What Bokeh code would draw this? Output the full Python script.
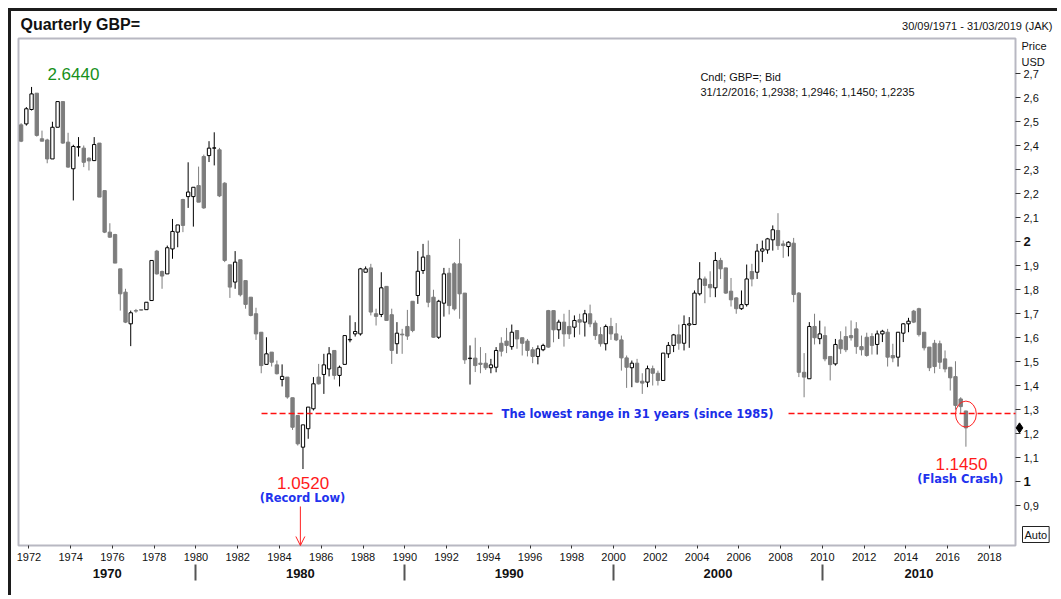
import pandas as pd
from bokeh.plotting import figure
from bokeh.models import (ColumnDataSource, Range1d, LinearAxis, FixedTicker, Label,
                          Arrow, OpenHead, CustomJSTickFormatter)
from bokeh.embed import file_html
from bokeh.resources import INLINE

# ---------------- data (quarterly GBP/USD candles, 1971Q3 .. 2016Q4) ----------------
first_quarter = "1971Q3"
last_quarter = "2016Q4"

opens = [2.486, 2.490, 2.550, 2.618, 2.428, 2.423, 2.344, 2.476, 2.583, 2.414,
         2.303, 2.393, 2.389, 2.347, 2.337, 2.410, 2.212, 2.039, 2.029, 1.886,
         1.789, 1.657, 1.712, 1.716, 1.716, 1.754, 1.960, 1.875, 1.865, 1.969,
         2.039, 2.175, 2.187, 2.187, 2.233, 2.354, 2.358, 2.389, 2.382, 2.243,
         1.903, 1.831, 1.924, 1.837, 1.768, 1.699, 1.622, 1.488, 1.539, 1.486,
         1.425, 1.435, 1.349, 1.275, 1.143, 1.220, 1.303, 1.435, 1.446, 1.469,
         1.546, 1.442, 1.488, 1.590, 1.615, 1.615, 1.872, 1.890, 1.699, 1.696,
         1.813, 1.695, 1.574, 1.614, 1.646, 1.751, 1.775, 1.879, 1.942, 1.768,
         1.601, 1.743, 1.868, 1.907, 1.907, 1.785, 1.512, 1.514, 1.493, 1.493,
         1.474, 1.476, 1.576, 1.585, 1.562, 1.629, 1.599, 1.585, 1.549, 1.521,
         1.549, 1.712, 1.712, 1.632, 1.664, 1.646, 1.643, 1.674, 1.664, 1.699,
         1.660, 1.612, 1.574, 1.646, 1.615, 1.590, 1.515, 1.474, 1.493, 1.418,
         1.414, 1.470, 1.451, 1.421, 1.532, 1.567, 1.611, 1.576, 1.652, 1.654,
         1.782, 1.844, 1.821, 1.807, 1.921, 1.890, 1.793, 1.765, 1.720, 1.737,
         1.875, 1.872, 1.960, 1.965, 2.007, 2.046, 1.990, 1.979, 1.993, 1.785,
         1.455, 1.428, 1.646, 1.595, 1.608, 1.521, 1.490, 1.590, 1.604, 1.608,
         1.636, 1.562, 1.601, 1.604, 1.571, 1.615, 1.622, 1.525, 1.518, 1.618,
         1.657, 1.710, 1.720, 1.622, 1.560, 1.576, 1.574, 1.511, 1.476, 1.437,
         1.344, 1.2938]
highs = [2.493, 2.560, 2.644, 2.618, 2.462, 2.428, 2.499, 2.583, 2.583, 2.453,
         2.403, 2.435, 2.400, 2.351, 2.435, 2.410, 2.212, 2.076, 2.032, 1.886,
         1.803, 1.712, 1.719, 1.717, 1.747, 1.921, 1.965, 1.879, 1.983, 2.094,
         2.069, 2.178, 2.330, 2.226, 2.312, 2.362, 2.418, 2.455, 2.390, 2.247,
         1.903, 1.960, 1.924, 1.837, 1.768, 1.724, 1.622, 1.601, 1.539, 1.504,
         1.488, 1.435, 1.349, 1.275, 1.236, 1.310, 1.435, 1.490, 1.532, 1.560,
         1.546, 1.483, 1.608, 1.692, 1.664, 1.890, 1.896, 1.907, 1.720, 1.872,
         1.813, 1.720, 1.664, 1.636, 1.715, 1.751, 1.960, 1.990, 2.004, 1.799,
         1.757, 1.890, 1.890, 1.914, 2.011, 1.785, 1.567, 1.599, 1.560, 1.535,
         1.511, 1.560, 1.601, 1.640, 1.654, 1.629, 1.599, 1.594, 1.560, 1.567,
         1.574, 1.715, 1.712, 1.674, 1.699, 1.715, 1.692, 1.699, 1.715, 1.737,
         1.671, 1.643, 1.654, 1.682, 1.660, 1.608, 1.525, 1.504, 1.511, 1.451,
         1.483, 1.483, 1.462, 1.535, 1.581, 1.615, 1.654, 1.692, 1.685, 1.796,
         1.914, 1.854, 1.876, 1.956, 1.932, 1.890, 1.848, 1.768, 1.796, 1.904,
         1.907, 1.990, 2.004, 2.015, 2.067, 2.118, 2.004, 2.001, 2.015, 1.789,
         1.535, 1.664, 1.699, 1.670, 1.646, 1.521, 1.594, 1.626, 1.646, 1.671,
         1.664, 1.608, 1.620, 1.618, 1.629, 1.632, 1.636, 1.574, 1.622, 1.660,
         1.682, 1.715, 1.724, 1.622, 1.560, 1.590, 1.587, 1.546, 1.476, 1.501,
         1.351, 1.2946]
lows = [2.414, 2.483, 2.546, 2.437, 2.418, 2.326, 2.344, 2.476, 2.407, 2.307,
        2.171, 2.354, 2.310, 2.296, 2.337, 2.185, 2.035, 2.015, 1.910, 1.712,
        1.660, 1.564, 1.703, 1.712, 1.716, 1.754, 1.862, 1.803, 1.865, 1.928,
        1.976, 2.039, 2.140, 2.062, 2.164, 2.136, 2.331, 2.317, 2.185, 1.914,
        1.765, 1.803, 1.771, 1.720, 1.688, 1.590, 1.451, 1.488, 1.479, 1.446,
        1.396, 1.345, 1.215, 1.150, 1.052, 1.178, 1.296, 1.404, 1.365, 1.438,
        1.425, 1.396, 1.488, 1.580, 1.604, 1.608, 1.872, 1.692, 1.650, 1.685,
        1.671, 1.490, 1.532, 1.532, 1.590, 1.622, 1.740, 1.865, 1.726, 1.599,
        1.594, 1.687, 1.696, 1.712, 1.678, 1.490, 1.404, 1.456, 1.451, 1.465,
        1.451, 1.455, 1.521, 1.535, 1.549, 1.553, 1.525, 1.521, 1.493, 1.488,
        1.543, 1.557, 1.580, 1.594, 1.562, 1.594, 1.601, 1.612, 1.604, 1.643,
        1.590, 1.562, 1.546, 1.590, 1.585, 1.462, 1.390, 1.393, 1.410, 1.365,
        1.393, 1.400, 1.400, 1.421, 1.515, 1.539, 1.549, 1.546, 1.557, 1.654,
        1.775, 1.743, 1.768, 1.768, 1.844, 1.782, 1.729, 1.699, 1.715, 1.729,
        1.813, 1.844, 1.914, 1.949, 1.962, 1.965, 1.932, 1.938, 1.747, 1.435,
        1.351, 1.428, 1.571, 1.572, 1.501, 1.421, 1.483, 1.532, 1.539, 1.587,
        1.532, 1.525, 1.520, 1.529, 1.529, 1.581, 1.479, 1.497, 1.479, 1.581,
        1.622, 1.660, 1.604, 1.546, 1.460, 1.451, 1.469, 1.455, 1.379, 1.299,
        1.282, 1.1450]
closes = [2.418, 2.553, 2.615, 2.442, 2.418, 2.344, 2.476, 2.583, 2.410, 2.310,
          2.396, 2.395, 2.330, 2.336, 2.404, 2.185, 2.039, 2.018, 1.910, 1.782,
          1.664, 1.703, 1.710, 1.714, 1.747, 1.921, 1.865, 1.856, 1.974, 2.042,
          2.069, 2.067, 2.206, 2.226, 2.164, 2.140, 2.389, 2.390, 2.190, 1.921,
          1.810, 1.914, 1.778, 1.738, 1.692, 1.615, 1.483, 1.532, 1.497, 1.449,
          1.438, 1.352, 1.226, 1.157, 1.236, 1.310, 1.407, 1.407, 1.486, 1.532,
          1.442, 1.476, 1.608, 1.592, 1.625, 1.886, 1.886, 1.706, 1.688, 1.807,
          1.671, 1.546, 1.618, 1.611, 1.606, 1.629, 1.876, 1.935, 1.747, 1.601,
          1.751, 1.865, 1.733, 1.719, 1.782, 1.507, 1.514, 1.483, 1.488, 1.474,
          1.486, 1.546, 1.543, 1.567, 1.622, 1.594, 1.576, 1.546, 1.521, 1.553,
          1.567, 1.560, 1.632, 1.664, 1.615, 1.615, 1.671, 1.664, 1.699, 1.657,
          1.608, 1.574, 1.646, 1.615, 1.590, 1.515, 1.476, 1.493, 1.414, 1.410,
          1.470, 1.451, 1.421, 1.535, 1.567, 1.611, 1.576, 1.654, 1.657, 1.785,
          1.844, 1.817, 1.807, 1.921, 1.886, 1.785, 1.757, 1.720, 1.737, 1.844,
          1.844, 1.960, 1.969, 2.011, 2.049, 1.983, 1.983, 1.997, 1.779, 1.455,
          1.435, 1.646, 1.599, 1.615, 1.511, 1.487, 1.571, 1.553, 1.549, 1.599,
          1.562, 1.549, 1.525, 1.567, 1.615, 1.626, 1.518, 1.515, 1.622, 1.657,
          1.668, 1.664, 1.612, 1.557, 1.474, 1.479, 1.497, 1.469, 1.432, 1.317,
          1.312, 1.2235]

year_ticks = list(range(1972, 2019, 2))
decade_label_pos = [1975.75, 1985.0, 1995.0, 2005.0, 2014.625]
decade_bounds = [1980, 1990, 2000, 2010]
price_ticks = [round(0.9 + 0.1 * i, 1) for i in range(19)]

low_range_level = 1.283
peak_text = "2.6440"
low_text = "1.0520"
crash_text = "1.1450"

# ---------------- derived ----------------
quarters = pd.period_range(first_quarter, last_quarter, freq="Q")
xs = [q.year + (q.quarter - 1) * 0.25 + 0.125 for q in quarters]


def split(cond):
    d = dict(x=[], top=[], bottom=[], high=[], low=[])
    for x, o, h, l, c in zip(xs, opens, highs, lows, closes):
        if cond(o, c):
            d["x"].append(x)
            d["top"].append(max(o, c))
            d["bottom"].append(min(o, c))
            d["high"].append(h)
            d["low"].append(l)
    return ColumnDataSource(d)


up_src = split(lambda o, c: c >= o)
dn_src = split(lambda o, c: c < o)

# plot-area extent (data) and pixel scale
X0, X1 = 1971.5, 2019.25
Y0, Y1 = 0.7333, 2.8458
PPX = 997 / (X1 - X0)      # px per year
PPY = 240.0                # px per price unit

W, H = 1049, 587
# the frame covers the whole canvas; axes are pinned with fixed_location
xr = Range1d(X0 - 7 / PPX, X1 + 45 / PPX)
yr = Range1d(2 - 357 / PPY, 2 + 230 / PPY)


def dx(px):  # horizontal pixel offset from plot-area right edge -> data
    return X1 + px / PPX


FONT = "Liberation Sans"
BLUE_FONT = "DejaVu Sans"

p = figure(width=W, height=H, x_range=xr, y_range=yr,
           output_backend="svg", toolbar_location=None,
           x_axis_location="below", y_axis_location="right",
           min_border=0, min_border_left=0, min_border_right=0,
           min_border_top=0, min_border_bottom=0,
           background_fill_color="white", border_fill_color="white",
           styles={"margin-left": "8px", "margin-top": "8px",
                   "border-top": "3px solid #1c1c1c", "border-left": "3px solid #1c1c1c"})
p.xgrid.visible = False
p.ygrid.visible = False
p.outline_line_color = None

GRAY = "#7d7d7d"
BORDER = "#b8b8c2"

# plot-area border
p.quad(left=[X0], right=[X1], bottom=[Y0], top=[Y1], fill_color=None,
       line_color=BORDER, line_width=2)

# wicks
p.segment(x0="x", x1="x", y0="low", y1="high", source=dn_src, line_color=GRAY, line_width=1)
p.segment(x0="x", x1="x", y0="low", y1="high", source=up_src, line_color="black", line_width=1)
# bodies
p.vbar(x="x", width=0.16, top="top", bottom="bottom", source=dn_src,
       fill_color=GRAY, line_color=GRAY, line_width=1)
p.vbar(x="x", width=0.16, top="top", bottom="bottom", source=up_src,
       fill_color="white", line_color="black", line_width=1)

# ---- axes ----
xa = p.xaxis[0]
xa.fixed_location = Y0
xa.ticker = FixedTicker(ticks=year_ticks)
xa.major_label_text_font = FONT
xa.major_label_text_font_size = "11px"
xa.major_label_text_color = "#111111"
xa.major_tick_in = 0
xa.major_tick_out = 3
xa.minor_tick_line_color = None
xa.major_tick_line_color = "#333333"
xa.axis_line_color = None
xa.major_label_standoff = 4

dec = LinearAxis(ticker=FixedTicker(ticks=decade_label_pos, minor_ticks=decade_bounds),
                 formatter=CustomJSTickFormatter(code="return String(Math.floor(tick/10)*10);"),
                 fixed_location=Y0 - 19 / PPY,
                 major_tick_line_color=None, major_tick_in=0, major_tick_out=0,
                 minor_tick_in=0, minor_tick_out=16, minor_tick_line_color="#555555",
                 minor_tick_line_width=2, axis_line_color=None,
                 major_label_text_font=FONT, major_label_text_font_size="13px",
                 major_label_text_font_style="bold", major_label_standoff=-12,
                 major_label_text_color="#111111")
p.add_layout(dec, "below")

ya = p.yaxis[0]
ya.fixed_location = X1
ya.ticker = FixedTicker(ticks=price_ticks)
ya.formatter = CustomJSTickFormatter(code="""
if (Math.abs(tick - Math.round(tick)) < 1e-6) { return ""; }
return tick.toFixed(1).replace('.', ',');
""")
ya.major_label_text_font = FONT
ya.major_label_text_font_size = "11px"
ya.major_label_text_color = "#111111"
ya.major_tick_in = 0
ya.major_tick_out = 5
ya.major_tick_line_color = "#333333"
ya.minor_tick_line_color = None
ya.axis_line_color = None
ya.major_label_standoff = 3

for v in (1, 2):
    p.add_layout(Label(x=dx(8), y=v, text=str(v), text_font=FONT, text_font_size="13px",
                       text_font_style="bold", text_baseline="middle", text_align="left",
                       text_color="#111111"))
p.add_layout(Label(x=dx(6), y=2 + (241 - 45) / PPY, text="Price", text_font=FONT,
                   text_font_size="11px", text_baseline="middle", text_color="#111111"))
p.add_layout(Label(x=dx(6), y=2 + (241 - 61) / PPY, text="USD", text_font=FONT,
                   text_font_size="11px", text_baseline="middle", text_color="#111111"))
p.scatter(x=[dx(4)], y=[closes[-1]], marker="diamond", size=10, color="black")
p.add_layout(Label(x=dx(7), y=Y0 + 3 / PPY, text="Auto", text_font=FONT,
                   text_font_size="11px", text_baseline="bottom", text_align="left",
                   text_color="#111111", border_line_color="#222222", border_line_width=1,
                   background_fill_color="white", padding=2))

# ---- titles ----
p.add_layout(Label(x=X0 + 2 / PPX, y=2 + (241 - 24) / PPY, text="Quarterly GBP=", text_font=FONT,
                   text_font_size="16px", text_font_style="bold", text_baseline="middle",
                   text_color="#111111"))
p.add_layout(Label(x=dx(37), y=2 + (241 - 25) / PPY, text="30/09/1971 - 31/03/2019 (JAK)",
                   text_font=FONT, text_font_size="11px", text_baseline="middle",
                   text_align="right", text_color="#111111"))
p.add_layout(Label(x=2004.16, y=2.6875, text="Cndl; GBP=; Bid", text_font=FONT,
                   text_font_size="11px", text_baseline="middle", text_color="#111111"))
p.add_layout(Label(x=2004.16, y=2.621,
                   text="31/12/2016; 1,2938; 1,2946; 1,1450; 1,2235", text_font=FONT,
                   text_font_size="11px", text_baseline="middle", text_color="#111111"))

# ---- annotations ----
p.add_layout(Label(x=1974.13, y=2.70, text=peak_text, text_font=FONT, text_font_size="17px",
                   text_align="center", text_baseline="middle", text_color="#16901a"))
p.add_layout(Label(x=1985.13, y=0.992, text=low_text, text_font=FONT, text_font_size="17px",
                   text_align="center", text_baseline="middle", text_color="#ff1a1a"))
p.add_layout(Label(x=1985.1, y=0.933, text="(Record Low)", text_font=BLUE_FONT,
                   text_font_size="11.5px", text_font_style="bold", text_align="center",
                   text_baseline="middle", text_color="#2233ee"))
p.add_layout(Label(x=2016.66, y=1.075, text=crash_text, text_font=FONT, text_font_size="17px",
                   text_align="center", text_baseline="middle", text_color="#ff1a1a"))
p.add_layout(Label(x=2016.6, y=1.0125, text="(Flash Crash)", text_font=BLUE_FONT,
                   text_font_size="11.5px", text_font_style="bold", text_align="center",
                   text_baseline="middle", text_color="#2233ee"))
p.add_layout(Label(x=2001.15, y=low_range_level, text="The lowest range in 31 years (since 1985)",
                   text_font=BLUE_FONT, text_font_size="11.5px", text_font_style="bold",
                   text_align="center", text_baseline="middle", text_color="#1a2ee8"))

p.multi_line(xs=[[1983.14, 1994.34], [2008.38, X1]], ys=[[low_range_level] * 2] * 2,
             line_color="#ff1010", line_width=1.5, line_dash="6 3")
p.ellipse(x=[xs[-1]], y=[1.281], width=1.0, height=0.108, fill_color=None,
          line_color="#ff2020", line_width=1)
p.add_layout(Arrow(x_start=1985.0, y_start=0.896, x_end=1985.0, y_end=Y0,
                   line_color="#ff2020", line_width=1,
                   end=OpenHead(size=9, line_color="#ff2020", line_width=1)))

open("out.html", "w").write(file_html(p, INLINE))
